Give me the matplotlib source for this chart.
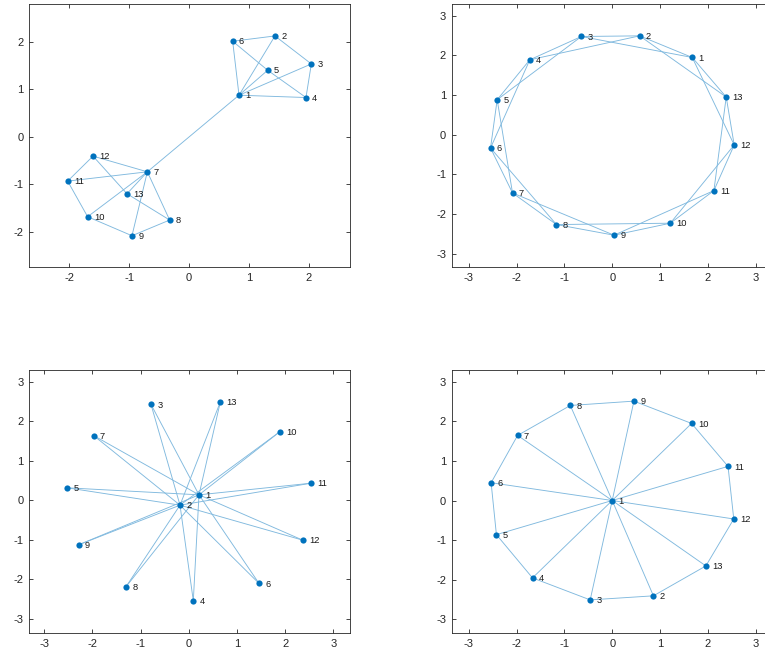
import matplotlib
matplotlib.use("Agg")
import matplotlib.pyplot as plt

plt.rcParams['font.family'] = ['Liberation Sans', 'DejaVu Sans']
plt.rcParams['axes.unicode_minus'] = False

labels = [str(i) for i in range(1, 14)]

# Subplot 1: two wheels joined by edge 1-7
x1 = [0.836, 1.437, 2.045, 1.955, 1.315, 0.730, -0.696, -0.323, -0.953, -1.694, -2.028, -1.604, -1.036]
y1 = [0.876, 2.123, 1.534, 0.827, 1.401, 2.011, -0.736, -1.751, -2.081, -1.681, -0.932, -0.406, -1.198]
e1 = [(1, 2), (1, 3), (1, 4), (1, 5), (1, 6), (2, 3), (3, 4), (4, 5), (5, 6), (6, 2),
      (1, 7),
      (7, 8), (7, 9), (7, 10), (7, 11), (7, 12), (7, 13),
      (8, 9), (9, 10), (10, 11), (11, 12), (12, 13), (13, 8)]

# Subplot 2: circulant graph
x2 = [1.676, 0.575, -0.645, -1.725, -2.408, -2.547, -2.087, -1.167, 0.038, 1.216, 2.129, 2.554, 2.387]
y2 = [1.942, 2.487, 2.471, 1.883, 0.877, -0.340, -1.473, -2.270, -2.538, -2.236, -1.414, -0.264, 0.944]
e2 = [(1, 2), (2, 3), (3, 4), (4, 5), (5, 6), (6, 7), (7, 8), (8, 9), (9, 10), (10, 11), (11, 12), (12, 13), (13, 1),
      (1, 3), (2, 4), (3, 5), (4, 6), (5, 7), (6, 8), (7, 9), (8, 10), (9, 11), (10, 12), (11, 13), (12, 1), (13, 2)]

# Subplot 3: nodes 1 and 2 joined to all others
x3 = [0.211, -0.183, -0.786, 0.093, -2.522, 1.457, -1.976, -1.304, -2.287, 1.893, 2.536, 2.363, 0.654]
y3 = [0.139, -0.122, 2.427, -2.538, 0.316, -2.100, 1.637, -2.184, -1.124, 1.738, 0.433, -1.006, 2.487]
e3 = [(1, k) for k in range(3, 14)] + [(2, k) for k in range(3, 14)]

# Subplot 4: wheel graph
x4 = [0.0, 0.863, -0.461, -1.668, -2.424, -2.535, -1.980, -0.877, 0.455, 1.662, 2.425, 2.545, 1.961]
y4 = [0.0, -2.410, -2.513, -1.957, -0.863, 0.450, 1.646, 2.403, 2.513, 1.949, 0.863, -0.467, -1.654]
e4 = [(1, k) for k in range(2, 14)] + [(2, 3), (3, 4), (4, 5), (5, 6), (6, 7), (7, 8), (8, 9),
                                        (9, 10), (10, 11), (11, 12), (12, 13), (13, 2)]

ticks1 = [-2, -1, 0, 1, 2]
ticks2 = [-3, -2, -1, 0, 1, 2, 3]

node_color = '#0072BD'
edge_color = '#80B9DE'

fig = plt.figure(figsize=(7.65, 6.56), dpi=100)
W = 321 / 765
H = 263 / 656
positions = [
    (29 / 765, 1 - 267 / 656, W, H),
    (451.7 / 765, 1 - 267 / 656, W, H),
    (29 / 765, 1 - 633 / 656, W, H),
    (451.7 / 765, 1 - 633 / 656, W, H),
]
panels = [
    (x1, y1, e1, (-2.674, 2.691), (-2.739, 2.795), ticks1),
    (x2, y2, e2, (-3.36, 3.36), (-3.34, 3.29), ticks2),
    (x3, y3, e3, (-3.318, 3.346), (-3.354, 3.295), ticks2),
    (x4, y4, e4, (-3.36, 3.36), (-3.35, 3.30), ticks2),
]

for pos, (xs, ys, edges, xl, yl, tk) in zip(positions, panels):
    ax = fig.add_axes(pos)
    for a, b in edges:
        ax.plot([xs[a - 1], xs[b - 1]], [ys[a - 1], ys[b - 1]], color=edge_color,
                lw=0.65, zorder=1, solid_capstyle='butt')
    ax.scatter(xs, ys, s=20, color=node_color, zorder=3, linewidths=0)
    for lab, xx, yy in zip(labels, xs, ys):
        ax.annotate(lab, (xx, yy), xytext=(4.5, -0.5), textcoords='offset points',
                    fontsize=6.7, va='center', ha='left', color='#1a1a1a', zorder=4)
    ax.set_xlim(*xl)
    ax.set_ylim(*yl)
    ax.set_xticks(tk)
    ax.set_yticks(tk)
    ax.set_xticklabels([str(t) for t in tk])
    ax.set_yticklabels([str(t) for t in tk])
    ax.tick_params(direction='in', length=3, width=0.6, top=True, right=True,
                   labelsize=8, colors='#262626', pad=4)
    for sp in ax.spines.values():
        sp.set_color('#262626')
        sp.set_linewidth(0.6)

fig.savefig('out.png', dpi=100)
